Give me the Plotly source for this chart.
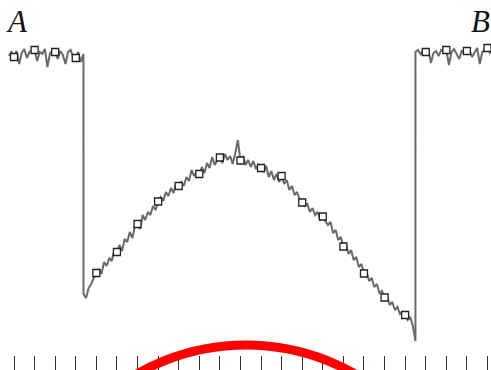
import numpy as np
import plotly.graph_objects as go

# Marker positions (sample index) and their levels
marker_x = list(range(24))
marker_y = [313, 320, 318, 312,
            97, 118, 146, 168.5, 184, 196, 212.5, 209.5, 202, 194, 167.5, 153.5,
            123.5, 96.5, 72.5, 55,
            318, 320, 319, 322]

# Noisy trace, three segments sampled every 1/8 of an index step
left_start, left_end = -0.25, 3.375
left_y = [314, 318, 313, 319, 306, 317, 321, 312, 318, 320,
          320, 309, 318, 316, 321, 303, 317, 319, 318, 311,
          319, 315, 306, 318, 320, 313, 312, 318, 308, 316]

mid_start, mid_end = 3.375, 19.5
mid_y = [76, 72, 82, 86, 92, 97,
         101, 96, 108, 104, 112, 109, 120, 118,
         125, 119, 131, 128, 138, 132, 144, 146,
         141, 155, 150, 158, 155, 164, 160, 168,
         173, 169, 178, 174, 182, 177, 187, 184,
         188, 184, 193, 189, 200, 194, 198, 196,
         203, 197, 207, 202, 213, 205, 210, 212,
         207, 216, 210, 214, 206, 217, 230, 209,
         214, 205, 210, 203, 209, 201, 206, 202,
         198, 204, 193, 199, 190, 196, 188, 194,
         186, 190, 180, 184, 175, 178, 170, 168,
         164, 166, 158, 162, 155, 158, 150, 153,
         149, 145, 148, 137, 140, 130, 133, 124,
         126, 116, 120, 110, 113, 103, 106, 97,
         98, 89, 92, 83, 86, 77, 79, 72,
         74, 65, 68, 60, 63, 56, 58, 55,
         50, 53, 44, 29]

right_start, right_end = 19.5, 23.25
right_y = [318, 320, 316, 319, 318, 321, 307, 317, 319, 314,
           320, 318, 320, 305, 318, 321, 316, 311, 319, 317,
           319, 320, 313, 318, 322, 306, 318, 321, 322, 317, 320]

tick_vals = list(range(24))
label_left = "A"
label_right = "B"

line_x = (list(np.linspace(left_start, left_end, len(left_y)))
          + list(np.linspace(mid_start, mid_end, len(mid_y)))
          + list(np.linspace(right_start, right_end, len(right_y))))
line_y = left_y + mid_y + right_y

fig = go.Figure()
fig.add_trace(go.Scatter(x=line_x, y=line_y, mode="lines",
                         line=dict(color="#6a6a6a", width=2),
                         hoverinfo="skip", showlegend=False))
fig.add_trace(go.Scatter(x=marker_x, y=marker_y, mode="markers",
                         marker=dict(symbol="square", size=7, color="white",
                                     line=dict(color="#222222", width=1.3)),
                         showlegend=False))

spacing = 473.5 / 23
x0 = -14 / spacing
x1 = (491 - 14) / spacing

fig.add_shape(type="circle", xref="x", yref="y",
              x0=(26 - 14) / spacing, x1=(466 - 14) / spacing,
              y0=-415, y1=25,
              line=dict(color="#ff0000", width=9), layer="above")

label_font = dict(family="Liberation Serif", size=31, color="#111111")
fig.add_annotation(text="<i>" + label_left + "</i>", xref="paper", yref="paper",
                   x=4 / 491, y=1 - 2 / 370,
                   xanchor="left", yanchor="top", showarrow=False, font=label_font)
fig.add_annotation(text="<i>" + label_right + "</i>", xref="paper", yref="paper",
                   x=469 / 491, y=1 - 2 / 370,
                   xanchor="left", yanchor="top", showarrow=False, font=label_font)

fig.update_layout(
    width=491, height=370,
    margin=dict(l=0, r=0, t=0, b=0),
    paper_bgcolor="white", plot_bgcolor="white",
    xaxis=dict(range=[x0, x1], tickvals=tick_vals, ticks="inside", ticklen=14,
               tickcolor="#333333", tickwidth=1, showticklabels=False,
               showgrid=False, zeroline=False, showline=True,
               linecolor="#888888", linewidth=1),
    yaxis=dict(range=[0, 370], visible=False, showgrid=False, zeroline=False),
)

fig.write_html("out.html", config={"displayModeBar": False},
               post_script="document.body.style.margin='0';document.body.style.overflow='hidden';")
